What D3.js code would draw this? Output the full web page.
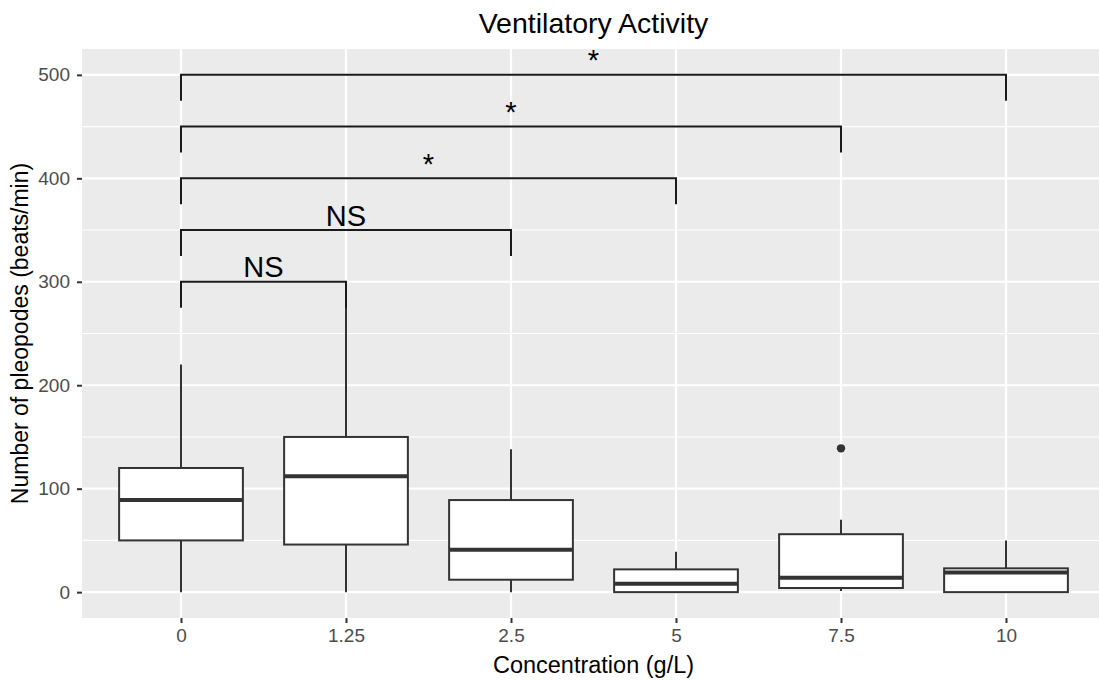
<!DOCTYPE html>
<html>
<head>
<meta charset="utf-8">
<script src="https://cdn.jsdelivr.net/npm/d3@7"></script>
<style>
  html, body { margin: 0; padding: 0; background: #ffffff; }
  svg { display: block; font-family: "Liberation Sans", Arial, Helvetica, sans-serif; }
</style>
</head>
<body>
<svg id="chart" width="1099" height="682"></svg>
<script>
// Concentration groups (g/L)
const categories = ["0", "1.25", "2.5", "5", "7.5", "10"];

// Five-number summaries per group (beats/min)
const lowerWhisker = [0, 0, 0, 0, 1, 0];
const q1           = [50, 46, 12, 0, 4, 0];
const median       = [89, 112, 41, 8, 14, 19];
const q3           = [120, 150, 89, 22, 56, 23];
const upperWhisker = [220, 300, 138, 39, 70, 50];

// Outlying observations
const outlierGroups = ["7.5"];
const outlierValues = [139];

// Pairwise comparisons against the control group
const compareFrom  = ["0", "0", "0", "0", "0"];
const compareTo    = ["1.25", "2.5", "5", "7.5", "10"];
const bracketLevel = [300, 350, 400, 450, 500];
const bracketLabel = ["NS", "NS", "*", "*", "*"];
const bracketTip   = 25;

const yTicks = [0, 100, 200, 300, 400, 500];
const yMinor = [50, 150, 250, 350, 450];

const svg = d3.select("#chart");

const panel = { left: 82, top: 49, bottom: 618 };
const step = 165;

const x = d3.scalePoint()
  .domain(categories)
  .range([panel.left + 0.6 * step, panel.left + 5.6 * step]);
panel.right = panel.left + 6.2 * step;

const y = d3.scaleLinear()
  .domain([-25, 525])
  .range([panel.bottom, panel.top]);

const boxWidth = 0.75 * step;

// Panel background
svg.append("rect")
  .attr("x", panel.left).attr("y", panel.top)
  .attr("width", panel.right - panel.left)
  .attr("height", panel.bottom - panel.top)
  .attr("fill", "#EBEBEB");

const grid = svg.append("g");
grid.selectAll(".minor").data(yMinor).join("line")
  .attr("x1", panel.left).attr("x2", panel.right)
  .attr("y1", d => y(d)).attr("y2", d => y(d))
  .attr("stroke", "#ffffff").attr("stroke-width", 1.1);
grid.selectAll(".majorY").data(yTicks).join("line")
  .attr("x1", panel.left).attr("x2", panel.right)
  .attr("y1", d => y(d)).attr("y2", d => y(d))
  .attr("stroke", "#ffffff").attr("stroke-width", 2.2);
grid.selectAll(".majorX").data(categories).join("line")
  .attr("x1", d => x(d)).attr("x2", d => x(d))
  .attr("y1", panel.top).attr("y2", panel.bottom)
  .attr("stroke", "#ffffff").attr("stroke-width", 2.2);

// Axes
const yAxis = svg.append("g")
  .attr("transform", `translate(${panel.left},0)`)
  .call(d3.axisLeft(y).tickValues(yTicks).tickSize(5).tickPadding(7));
const xAxis = svg.append("g")
  .attr("transform", `translate(0,${panel.bottom})`)
  .call(d3.axisBottom(x).tickSize(5).tickPadding(6));
[yAxis, xAxis].forEach(a => {
  a.attr("font-size", 19).attr("font-family", "\"Liberation Sans\", Arial, sans-serif");
  a.select(".domain").remove();
  a.selectAll(".tick line").attr("stroke", "#333333").attr("stroke-width", 2);
  a.selectAll(".tick text")
    .attr("fill", "#4D4D4D")
    .attr("font-size", 19);
});

// Boxes
const boxes = svg.append("g");
categories.forEach((c, i) => {
  const cx = x(c);
  const g = boxes.append("g");
  g.append("line")
    .attr("x1", cx).attr("x2", cx)
    .attr("y1", y(upperWhisker[i])).attr("y2", y(q3[i]))
    .attr("stroke", "#333333").attr("stroke-width", 2);
  g.append("line")
    .attr("x1", cx).attr("x2", cx)
    .attr("y1", y(q1[i])).attr("y2", y(lowerWhisker[i]))
    .attr("stroke", "#333333").attr("stroke-width", 2);
  g.append("rect")
    .attr("x", cx - boxWidth / 2).attr("width", boxWidth)
    .attr("y", y(q3[i])).attr("height", y(q1[i]) - y(q3[i]))
    .attr("fill", "#ffffff").attr("stroke", "#333333").attr("stroke-width", 2);
  g.append("line")
    .attr("x1", cx - boxWidth / 2).attr("x2", cx + boxWidth / 2)
    .attr("y1", y(median[i])).attr("y2", y(median[i]))
    .attr("stroke", "#333333").attr("stroke-width", 4);
});

svg.append("g").selectAll("circle")
  .data(outlierValues.map((v, i) => ({ c: outlierGroups[i], v })))
  .join("circle")
  .attr("cx", d => x(d.c)).attr("cy", d => y(d.v))
  .attr("r", 4.2).attr("fill", "#333333");

// Significance brackets
const br = svg.append("g");
compareTo.forEach((to, i) => {
  const x1 = x(compareFrom[i]), x2 = x(to);
  const yTop = y(bracketLevel[i]);
  const yEnd = y(bracketLevel[i] - bracketTip);
  br.append("path")
    .attr("d", `M${x1},${yEnd}L${x1},${yTop}L${x2},${yTop}L${x2},${yEnd}`)
    .attr("fill", "none").attr("stroke", "#1a1a1a").attr("stroke-width", 2);
  br.append("text")
    .attr("x", (x1 + x2) / 2)
    .attr("y", yTop - 4.5)
    .attr("text-anchor", "middle")
    .style("font-size", "29px")
    .attr("fill", "#000000")
    .text(bracketLabel[i]);
});

// Titles
svg.append("text")
  .attr("x", (panel.left + panel.right) / 2).attr("y", 33)
  .attr("text-anchor", "middle")
  .style("font-size", "28.5px")
  .text("Ventilatory Activity");

svg.append("text")
  .attr("x", (panel.left + panel.right) / 2).attr("y", 673)
  .attr("text-anchor", "middle")
  .style("font-size", "23.5px")
  .text("Concentration (g/L)");

svg.append("text")
  .attr("transform", `translate(28,${(panel.top + panel.bottom) / 2}) rotate(-90)`)
  .attr("text-anchor", "middle")
  .style("font-size", "23px")
  .text("Number of pleopodes (beats/min)");
</script>
</body>
</html>
